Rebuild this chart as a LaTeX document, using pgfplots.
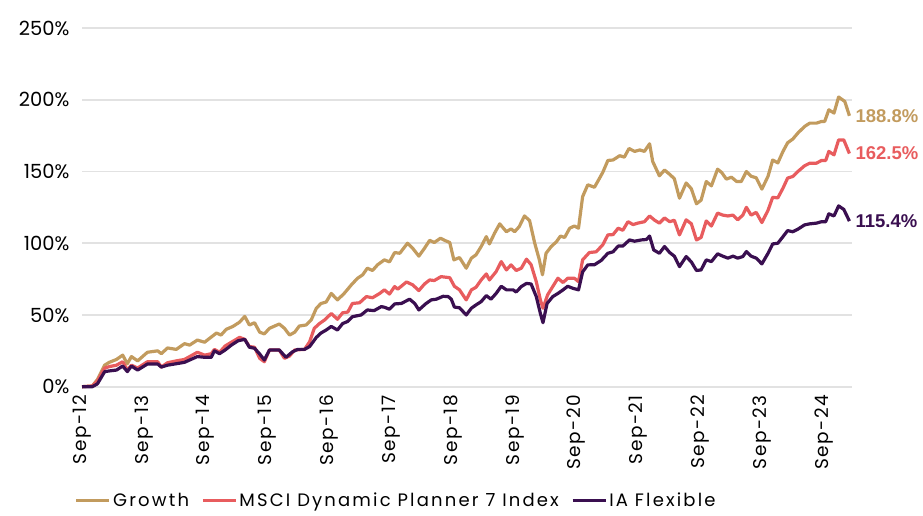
\documentclass[border=0pt]{standalone}
\usepackage{pgfplots}
\pgfplotsset{compat=1.18}
\usepackage{fontspec}
\setmainfont{Poppins}
\newfontfamily\spfont[LetterSpace=8]{Poppins}
\newfontfamily\legfont[LetterSpace=12]{Poppins}
\newfontfamily\labfont{Liberation Sans}
\definecolor{cgrowth}{HTML}{C29B5E}
\definecolor{cmsci}{HTML}{E85C5E}
\definecolor{cia}{HTML}{3A0F50}
\definecolor{cgrid}{HTML}{E2E2E2}
\begin{document}
\begin{tikzpicture}[x=1pt,y=1pt]
\useasboundingbox (0,0) rectangle (923,515);
\begin{axis}[
  at={(82pt,128.3pt)}, anchor=south west,
  scale only axis, width=770pt, height=358.7pt,
  xmin=0, xmax=149.5, ymin=0, ymax=250,
  axis line style={draw=none},
  major tick length=0pt,
  ymajorgrids, grid style={cgrid, line width=1.6pt},
  ytick={0,50,100,150,200,250},
  yticklabels={0\%,50\%,100\%,150\%,200\%,250\%},
  y tick label style={font=\fontsize{19.5}{19.5}\selectfont, xshift=-9pt},
  xtick={0,12,24,36,48,60,72,84,96,108,120,132,144},
  xticklabels={Sep-12,Sep-13,Sep-14,Sep-15,Sep-16,Sep-17,Sep-18,Sep-19,Sep-20,Sep-21,Sep-22,Sep-23,Sep-24},
  x tick label style={rotate=90, anchor=east, font=\spfont\fontsize{18.5}{18.5}\selectfont, xshift=-5pt},
  clip=false,
  legend columns=3,
  legend style={draw=none, fill=none, at={(0.408,-0.318)}, anchor=center, font=\legfont\fontsize{18}{18}\selectfont,
    /tikz/every even column/.append style={column sep=10pt}},
  legend image code/.code={\draw[#1, line width=3.4pt] (0pt,0pt) -- (33pt,0pt);},
  every axis plot/.append style={line width=3.2pt, line join=round, mark=none},
]
\addplot[cgrowth] coordinates {
(0,0) (2.0,0.5) (3.0,5) (4.4,15) (5.3,17) (6.7,19) (7.9,22) (8.8,16) (9.6,21) (10.8,18)
(12.7,24) (14.7,25) (15.4,23) (16.6,27) (18.3,26) (19.9,30) (20.9,29) (22.4,32.5) (23.8,31)
(26.1,37.4) (27.0,36) (28.0,40) (29.3,42) (30.6,45) (31.6,49) (32.5,43) (33.5,44.6) (34.5,38)
(35.4,36.8) (36.4,40.7) (38.3,43.7) (39.3,40.7) (40.3,36) (41.3,38) (42.2,42.3) (43.5,43)
(44.5,46.5) (45.5,54.7) (46.4,58) (47.4,59) (48.4,65) (49.6,60.5) (50.9,65) (52.3,71)
(53.5,75.6) (54.5,78) (55.4,82.6) (56.4,81) (57.4,85) (58.7,88.4) (59.7,87) (60.7,93.5)
(61.7,93) (63.2,100) (64.2,96.5) (65.4,91) (66.5,96.5) (67.5,102) (68.4,100.5) (69.6,103.5)
(70.4,102) (71.4,100.5) (72.2,88.4) (73.3,90) (74.6,82.6) (75.6,89.6) (76.5,91.9) (77.5,97.7)
(78.5,104.6) (79.1,99.5) (80.1,107) (81.1,113.5) (82.4,108) (83.3,110) (84.0,108) (84.9,111.6)
(85.9,119) (86.9,115.8) (87.9,100) (88.8,88.4) (89.4,78) (90.1,93) (91.1,97.7) (92.1,101)
(92.9,105) (93.7,104) (94.7,110.5) (95.6,112) (96.4,110.5) (97.2,132.5) (98.2,140.7) (99.5,139)
(101.1,149.3) (102.1,157.7) (103.1,158) (104.4,161) (105.3,160) (106.2,166) (107.3,164)
(108.3,165) (109.2,164) (110.2,169.3) (110.8,157) (112.1,147) (113.1,151) (114.1,148)
(115.0,145) (116.0,131.4) (117.3,142) (118.3,138) (119.3,127.5) (120.2,130) (121.2,143)
(122.2,140) (123.4,151.6) (124.2,149.3) (125.1,144.7) (126.1,146) (127.1,143) (128.0,143)
(129.0,150) (129.9,146.7) (130.9,145.6) (132.0,137.7) (133.2,146.7) (134.1,158) (135.1,156)
(136.1,164) (137.0,170) (138.0,172.6) (139.0,176.8) (140.3,181.4) (141.3,183.7) (142.6,183.7)
(143.6,184.9) (144.2,184.9) (145.0,193) (146.0,190.7) (146.9,201.9) (148.1,198.8) (149.0,188.8)
};
\addlegendentry{Growth}
\addplot[cmsci] coordinates {
(0,0) (2.0,0.5) (3.0,4) (4.4,13) (5.3,14) (6.7,15) (7.9,17.4) (8.8,11.6) (9.6,15) (10.8,13)
(12.7,17.4) (14.7,17.4) (15.4,13.7) (16.6,16.7) (18.3,18) (19.9,19) (22.4,24) (23.8,22)
(25.1,23) (25.7,26) (26.7,24) (27.8,28.4) (29.0,31) (30.6,34.4) (31.6,33) (32.5,28) (33.5,27.5)
(34.5,19.8) (35.4,17.4) (36.4,25.6) (38.3,25.6) (39.3,19.8) (40.3,21.4) (41.3,25.6) (43.2,26)
(44.2,31.4) (45.1,40.7) (46.1,44) (47.1,46.5) (48.4,51) (49.6,47) (50.6,51.5) (51.6,52)
(52.5,58) (53.9,58.5) (55.2,62.8) (56.4,62) (57.8,65) (58.7,67.5) (59.7,64.6) (60.7,69.8)
(61.3,68) (63.0,73) (64.2,71) (65.4,67) (66.5,71.6) (67.5,74.4) (68.4,74) (69.7,76.7)
(71.4,76) (72.3,70) (73.3,67.5) (74.6,60.5) (75.6,67.5) (76.5,69.3) (77.5,74.4) (78.5,78.6)
(79.1,74.4) (80.4,80.2) (81.4,87.2) (82.4,81.4) (83.3,84.9) (84.3,81) (85.3,82.6) (86.3,88.9)
(87.2,85) (88.2,73.2) (89.0,60.5) (89.5,54.7) (90.4,64) (91.4,69.8) (92.4,75.6) (93.4,72.6)
(94.3,75.6) (95.6,75.6) (96.4,73.2) (97.2,88.4) (98.5,93.5) (99.8,94) (101.1,98.8) (102.1,105.8)
(103.1,106) (104.1,110.5) (105.0,109) (106.0,115) (107.0,113) (107.9,114) (109.2,115) (110.2,119)
(111.2,116) (112.1,114) (113.1,117.6) (114.1,115) (115.0,116) (116.0,105.8) (117.3,116.3)
(118.3,113.6) (119.3,102.3) (120.2,104) (121.2,115.5) (122.2,112) (123.4,121) (124.4,119.6)
(125.4,119) (126.4,119.6) (127.3,116.3) (128.3,119.6) (129.0,125) (129.9,119.6) (130.9,121.5)
(132.0,114.4) (133.2,123) (134.1,132) (135.1,131.6) (136.1,138.4) (137.0,145.4) (138.0,146.5)
(139.0,150) (140.3,154) (141.3,155.8) (142.6,155.8) (143.6,157.7) (144.4,157.7) (145.0,164)
(146.0,161.6) (146.9,172) (147.9,172) (149.0,162.5)
};
\addlegendentry{MSCI Dynamic Planner 7 Index}
\addplot[cia] coordinates {
(0,0) (2.0,0) (3.0,2) (4.4,10.5) (5.3,11) (6.7,11.6) (7.9,14.4) (8.8,10.5) (9.6,14.4) (10.8,11.6)
(12.7,15.8) (14.7,15.8) (15.4,13.7) (16.6,15) (18.3,16) (19.9,17) (22.4,21) (23.8,20.5)
(25.1,20.5) (25.7,25) (26.7,23) (27.8,25.6) (29.0,29) (30.3,32) (31.6,33) (32.5,27.5) (33.5,26.8)
(34.5,22.8) (35.4,18.6) (36.4,25.6) (38.3,25.6) (39.6,20.5) (40.9,24.4) (41.9,26) (43.2,26)
(44.2,28) (45.5,34.4) (46.4,37.4) (47.4,39.5) (48.4,42) (49.6,39.5) (50.6,44) (51.6,45.5)
(52.5,48.8) (54.2,50) (55.4,53.5) (56.7,53) (58.1,55.8) (58.7,55.4) (59.7,54) (60.7,57.7)
(62.0,58) (63.6,61) (64.6,58) (65.4,53.5) (66.7,57.7) (67.8,60.5) (68.8,61) (70.1,63) (71.1,62.8)
(71.7,61) (72.3,55.5) (73.3,55) (74.6,50) (75.6,54.7) (76.5,57) (77.5,59.3) (78.5,63.5) (79.4,61)
(80.4,65) (81.4,70) (82.4,67.5) (83.7,67.5) (84.3,66) (85.3,69.8) (86.3,72) (87.2,71.6)
(88.2,62.8) (89.0,51) (89.5,44.6) (90.3,58) (91.4,62.8) (92.4,65) (93.4,67.5) (94.3,70)
(95.3,68.6) (96.4,67.5) (97.2,80) (98.2,84.9) (99.5,85) (100.8,88) (102.1,93) (103.1,94)
(104.1,98) (105.0,98) (106.3,102.3) (107.3,101.4) (108.6,102.3) (109.6,102.6) (110.2,105)
(111.0,95.3) (112.1,93) (113.1,97.7) (114.1,93.5) (115.0,91) (116.0,83.7) (117.3,90.7)
(118.3,87) (119.3,81) (120.2,81.4) (121.2,88.4) (122.2,87.2) (123.4,92.6) (124.4,91)
(125.4,89.6) (126.4,91) (127.3,89.6) (128.3,90.7) (129.0,94.2) (129.9,91) (130.9,89.6)
(132.0,85.6) (133.2,93) (134.1,99.5) (135.1,100) (136.1,104.6) (137.0,108.8) (138.0,108)
(139.0,109.8) (140.3,112.8) (141.3,113.5) (142.6,114) (143.6,115) (144.4,115) (145.0,120.5)
(146.0,119) (146.9,126) (147.9,123.6) (149.0,115.4)
};
\addlegendentry{IA Flexible}
\node[anchor=west, text=cgrowth, font=\labfont\bfseries\fontsize{18.5}{18.5}\selectfont] at (axis cs:149.5,188.8) {188.8\%};
\node[anchor=west, text=cmsci, font=\labfont\bfseries\fontsize{18.5}{18.5}\selectfont] at (axis cs:149.5,162.5) {162.5\%};
\node[anchor=west, text=cia, font=\labfont\bfseries\fontsize{18.5}{18.5}\selectfont] at (axis cs:149.5,115.4) {115.4\%};
\end{axis}
\end{tikzpicture}
\end{document}
